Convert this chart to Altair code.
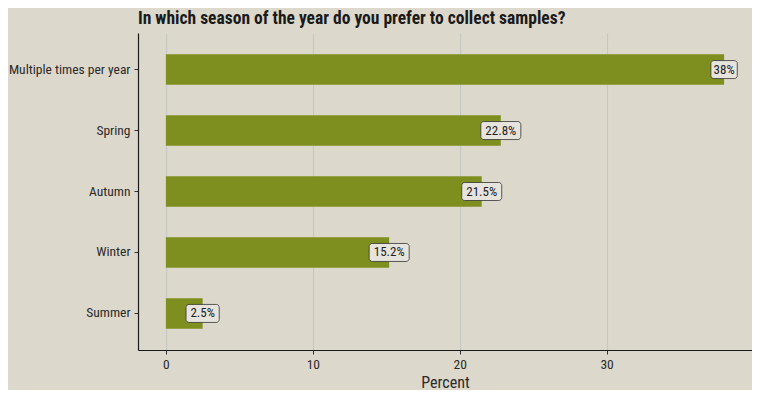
import altair as alt
import pandas as pd

categories = ["Multiple times per year", "Spring", "Autumn", "Winter", "Summer"]
values = [38, 22.8, 21.5, 15.2, 2.5]
labels = ["38%", "22.8%", "21.5%", "15.2%", "2.5%"]

df = pd.DataFrame({"season": categories, "pct": values, "label": labels})

FONT = "Roboto Condensed, Liberation Sans Narrow, Roboto"

y_enc = alt.Y("season:N", sort=categories, title=None,
              scale=alt.Scale(paddingInner=0.5, paddingOuter=0.35))

bars = alt.Chart(df).mark_bar(color="#7f8f1f").encode(
    x=alt.X("pct:Q", title="Percent",
            scale=alt.Scale(domain=[-1.9, 39.9], nice=False, zero=False),
            axis=alt.Axis(values=[0, 10, 20, 30], format="d")),
    x2=alt.datum(0),
    y=y_enc,
)

boxes = alt.Chart(df).mark_rect(
    fill="#e7e4dd", stroke="#333333", strokeWidth=0.8, cornerRadius=3,
    height=18,
    xOffset=alt.expr("-(length(datum.label)*6.8+6)/2"),
    x2Offset=alt.expr("(length(datum.label)*6.8+6)/2"),
).encode(
    x=alt.X("pct:Q"),
    x2=alt.X2("pct"),
    y=y_enc,
)

texts = alt.Chart(df).mark_text(
    font=FONT, fontSize=13, color="#222222", align="center", baseline="middle"
).encode(
    x=alt.X("pct:Q"),
    y=y_enc,
    text="label:N",
)

chart = alt.layer(bars, boxes, texts).properties(
    width=614, height=317,
    autosize=alt.AutoSizeParams(type="none"),
    padding={"left": 130, "top": 25, "right": 0, "bottom": 40},
    background="#ddd8cc",
    title=alt.Title(
        "In which season of the year do you prefer to collect samples?",
        anchor="start", frame="group", font=FONT, fontSize=17.5,
        fontWeight="bold", color="#1a1a1a", offset=6,
    ),
).configure_view(stroke=None).configure_axis(
    labelFont=FONT, titleFont=FONT, labelColor="#2a2a2a", titleColor="#2a2a2a",
    domainColor="#1a1a1a", tickColor="#333333", tickSize=4, domainWidth=1.2,
).configure_axisX(
    grid=True, gridColor="#c6c8c6", gridWidth=1.2, labelFontSize=13.5,
    titleFontSize=16, titleFontWeight="normal", labelPadding=3,
    titleY=37, titleBaseline="alphabetic",
).configure_axisY(
    grid=False, labelFontSize=13.5, labelPadding=4,
)

chart.save("out.html", embed_options={"renderer": "svg", "actions": False})
